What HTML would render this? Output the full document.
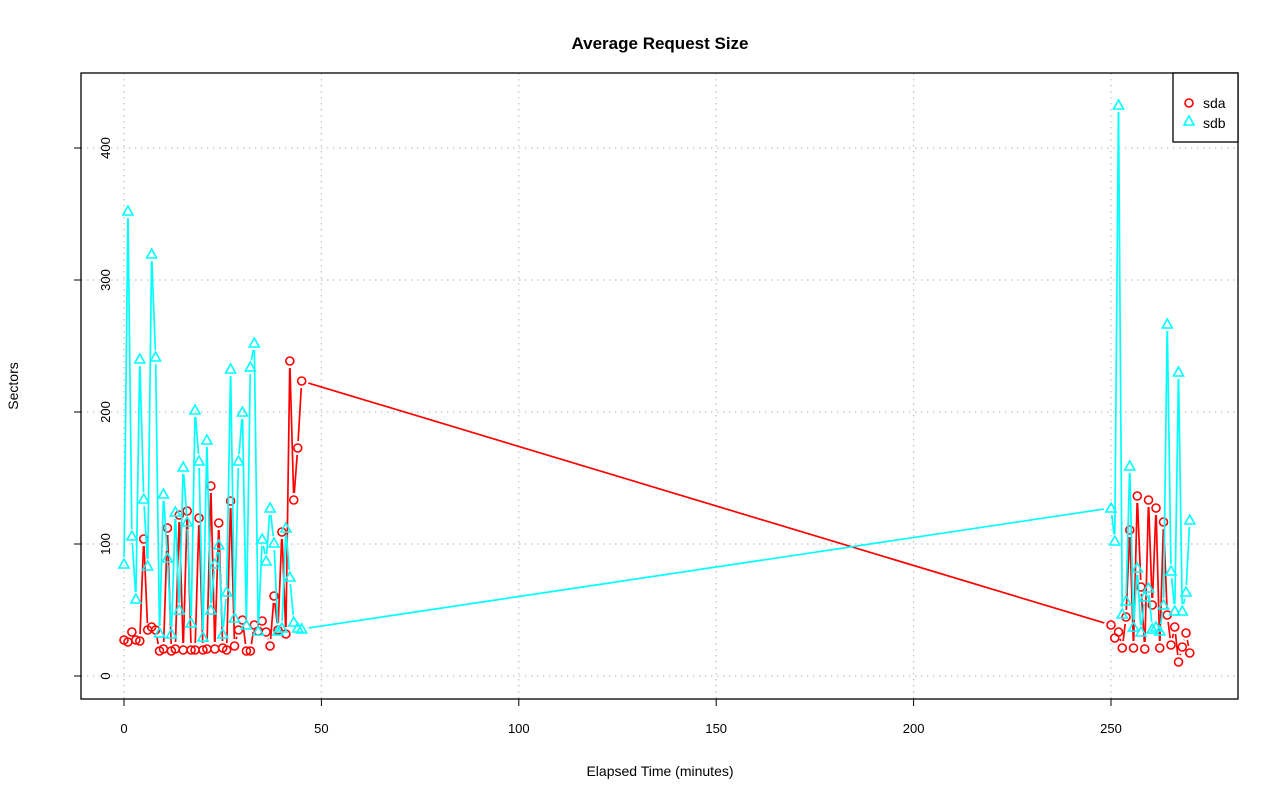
<!DOCTYPE html>
<html><head><meta charset="utf-8"><style>
body{margin:0;background:#fff;}
svg{display:block;font-family:"Liberation Sans",Arial,sans-serif;}
</style></head><body>
<svg id="s" width="1280" height="801" xmlns="http://www.w3.org/2000/svg">
<rect width="1280" height="801" fill="#fff"/>
<text x="660" y="49" text-anchor="middle" font-size="17" font-weight="bold">Average Request Size</text>
<text x="660" y="776" text-anchor="middle" font-size="14">Elapsed Time (minutes)</text>
<text transform="translate(18,386) rotate(-90)" text-anchor="middle" font-size="14">Sectors</text>
<g id="grid" stroke="#c0c0c0" stroke-width="1.2" stroke-dasharray="1.5,4.5"></g>
<g id="axes" stroke="#000" stroke-width="1" fill="none"></g>
<g id="lbl" font-size="13"></g>
<g id="data"></g>
<rect x="81" y="73" width="1157" height="626" fill="none" stroke="#000" stroke-width="1.3"/>
<rect x="1173" y="73" width="65" height="69" fill="#fff" stroke="#000" stroke-width="1.3"/>
<circle cx="1189" cy="103" r="4" fill="none" stroke="#f00" stroke-width="1.6"/>
<polygon points="1189,116 1194,125 1184,125" fill="none" stroke="#0ff" stroke-width="1.6"/>
<text x="1203" y="108" font-size="14">sda</text>
<text x="1203" y="128" font-size="14">sdb</text>
</svg>
<script>
var NS="http://www.w3.org/2000/svg";
function el(p,t,a,txt){var e=document.createElementNS(NS,t);for(var k in a)e.setAttribute(k,a[k]);if(txt!==undefined)e.textContent=txt;p.appendChild(e);return e;}
function X(t){return 124+3.948*t;}
var g=document.getElementById('grid'),ax=document.getElementById('axes'),lb=document.getElementById('lbl');
for(var v=0;v<=250;v+=50){var x=X(v);el(g,'line',{x1:x,y1:73,x2:x,y2:699});el(ax,'line',{x1:x,y1:699,x2:x,y2:706});el(lb,'text',{x:x,y:733,'text-anchor':'middle'},v);}
el(ax,'line',{x1:X(0),y1:699,x2:X(250),y2:699});
for(var v=0;v<=400;v+=100){var y=676-1.32*v;el(g,'line',{x1:81,y1:y,x2:1238,y2:y});el(ax,'line',{x1:74,y1:y,x2:81,y2:y});el(lb,'text',{transform:'translate(110,'+y+') rotate(-90)','text-anchor':'middle'},v);}
el(ax,'line',{x1:81,y1:676,x2:81,y2:148});
var sdbL=[564,211,536,599,359,499,566,254,357,633,494,558,634,512,610,467,522,623,410,461,637,440,610,564,545,634,592,369,618,461,412,625,367,343,631,539,561,508,543,631,628,528,577,622,628,629];
var sdaL=[640,642,632,640,641,539,630,627,630,651,649,528,651,649,515,650,511,650,650,518,650,649,486,649,523,648,650,501,646,630,620,651,651,625,631,621,632,646,596,630,532,634,361,500,448,381];
var sdbR=[508,541,105,614,601,466,627,568,632,597,588,629,627,631,605,324,571,611,372,611,592,520];
var sdaR=[625,638,632,648,617,530,648,496,587,649,500,605,508,648,522,615,645,627,662,647,633,653];
function pts(L,R){var a=[];L.forEach(function(y,i){a.push([X(i),y]);});R.forEach(function(y,i){a.push([X(250+i*0.95),y]);});return a;}
var d=document.getElementById('data');
function series(P,col,tri){
 for(var i=0;i<P.length-1;i++){var a=P[i],b=P[i+1],dx=b[0]-a[0],dy=b[1]-a[1],L=Math.hypot(dx,dy),gp=7;if(L>2*gp){var ux=dx/L,uy=dy/L;el(d,'line',{x1:a[0]+ux*gp,y1:a[1]+uy*gp,x2:b[0]-ux*gp,y2:b[1]-uy*gp,stroke:col,'stroke-width':1.7});}}
 P.forEach(function(p){if(tri)el(d,'polygon',{points:p[0]+','+(p[1]-5)+' '+(p[0]+5)+','+(p[1]+4)+' '+(p[0]-5)+','+(p[1]+4),fill:'none',stroke:col,'stroke-width':1.6});else el(d,'circle',{cx:p[0],cy:p[1],r:4,fill:'none',stroke:col,'stroke-width':1.6});});
}
series(pts(sdaL,sdaR),'#f00',false);
series(pts(sdbL,sdbR),'#0ff',true);
</script>
</body></html>
